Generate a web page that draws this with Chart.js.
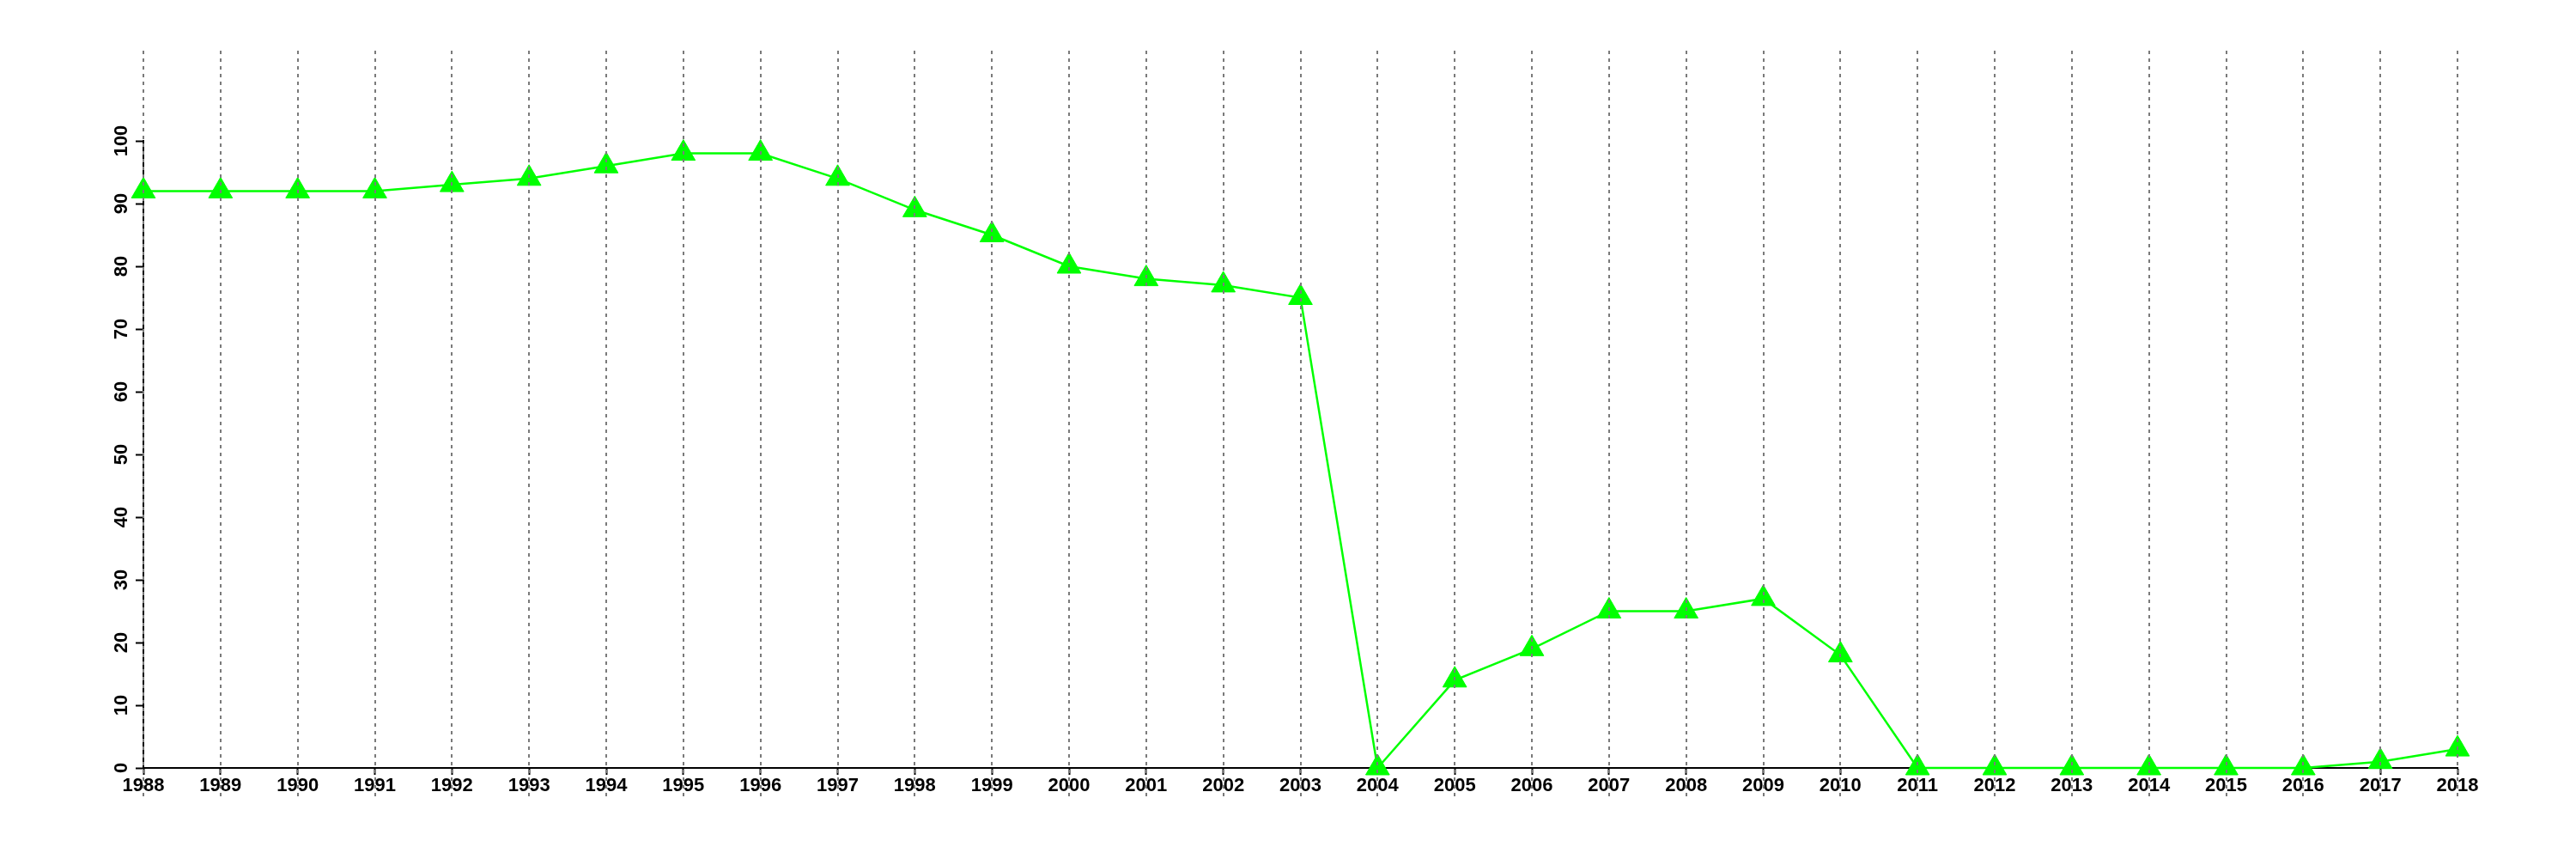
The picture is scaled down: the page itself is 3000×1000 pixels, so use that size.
<!DOCTYPE html>
<html>
<head>
<meta charset="utf-8">
<script src="https://cdn.jsdelivr.net/npm/chart.js@4/dist/chart.umd.min.js"></script>
<style>
  html, body { margin: 0; padding: 0; background: #ffffff; }
  #wrap { width: 3000px; height: 1000px; }
</style>
</head>
<body>
<div id="wrap"><canvas id="c" width="3000" height="1000"></canvas></div>
<script>
const years = ['1988','1989','1990','1991','1992','1993','1994','1995','1996','1997','1998','1999','2000','2001','2002','2003','2004','2005','2006','2007','2008','2009','2010','2011','2012','2013','2014','2015','2016','2017','2018'];
const values = [92,92,92,92,93,94,96,98,98,94,89,85,80,78,77,75,0,14,19,25,25,27,18,0,0,0,0,0,0,1,3];
const yTickValues = [0,10,20,30,40,50,60,70,80,90,100];

const dottedLines = {
  id: 'dottedLines',
  afterDraw(chart) {
    const ctx = chart.ctx;
    const xs = chart.scales.x;
    const area = chart.chartArea;
    ctx.save();
    ctx.strokeStyle = '#7a7a7a';
    ctx.lineWidth = 2;
    ctx.setLineDash([4, 5]);
    for (let i = 0; i < years.length; i++) {
      const px = Math.round(xs.getPixelForValue(i)) ;
      ctx.beginPath();
      ctx.moveTo(px, area.top - 105);
      ctx.lineTo(px, area.bottom + 33);
      ctx.stroke();
    }
    ctx.restore();
  }
};

new Chart(document.getElementById('c'), {
  type: 'line',
  data: {
    labels: years,
    datasets: [{
      data: values,
      borderColor: '#00ff00',
      backgroundColor: '#00ff00',
      borderWidth: 2.5,
      pointStyle: 'triangle',
      pointRadius: 16,
      pointBorderWidth: 1,
      pointBorderColor: '#00ff00',
      pointBackgroundColor: '#00ff00',
      tension: 0,
      clip: false
    }]
  },
  options: {
    responsive: false,
    animation: false,
    events: [],
    layout: { padding: { left: 0, right: 138, top: 164, bottom: 0 } },
    plugins: { legend: { display: false }, tooltip: { enabled: false } },
    scales: {
      x: {
        type: 'category',
        offset: false,
        grid: {
          display: true, drawOnChartArea: false, drawTicks: true,
          tickLength: 8, tickColor: '#000', tickWidth: 2
        },
        border: { display: true, color: '#000', width: 2 },
        ticks: {
          color: '#000', autoSkip: false, maxRotation: 0, minRotation: 0,
          padding: 0,
          font: { family: 'Liberation Sans', size: 22, weight: 'bold' }
        },
        afterFit(s) { s.height = 106; }
      },
      y: {
        min: 0, max: 100,
        afterBuildTicks(s) { s.ticks = yTickValues.map(v => ({ value: v })); },
        grid: {
          display: true, drawOnChartArea: false, drawTicks: true,
          tickLength: 9, tickColor: '#000', tickWidth: 2
        },
        border: { display: true, color: '#000', width: 2 },
        ticks: {
          color: '#000', minRotation: 90, maxRotation: 90,
          crossAlign: 'center', padding: -2,
          font: { family: 'Liberation Sans', size: 22, weight: 'bold' }
        },
        afterFit(s) { s.width = 167; }
      }
    }
  },
  plugins: [dottedLines]
});
</script>
</body>
</html>
